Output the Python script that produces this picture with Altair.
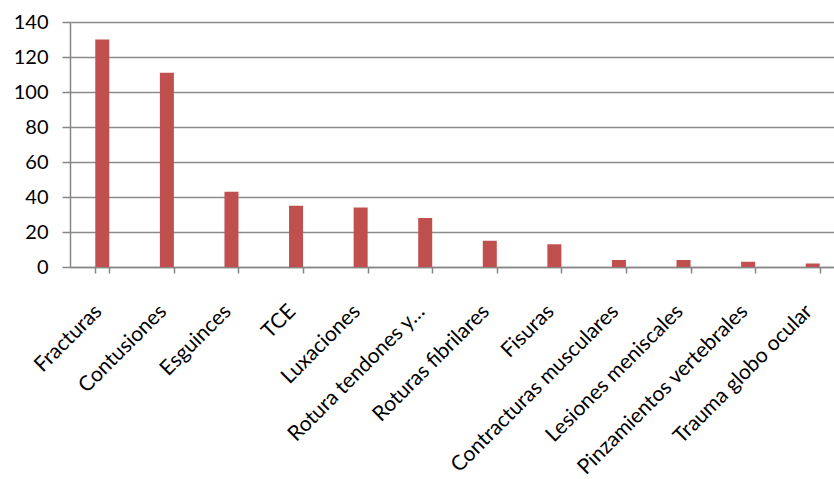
import altair as alt
import pandas as pd

categories = [
    "Fracturas", "Contusiones", "Esguinces", "TCE", "Luxaciones",
    "Rotura tendones y…", "Roturas fibrilares", "Fisuras",
    "Contracturas musculares", "Lesiones meniscales",
    "Pinzamientos vertebrales", "Trauma globo ocular",
]
values = [130, 111, 43, 35, 34, 28, 15, 13, 4, 4, 3, 2]
y_ticks = [0, 20, 40, 60, 80, 100, 120, 140]

df = pd.DataFrame({"cat": categories, "val": values})

FONT = "Lato"

chart = alt.Chart(df).mark_bar(color="#c0504d").encode(
    x=alt.X(
        "cat:N",
        sort=categories,
        title=None,
        scale=alt.Scale(range=[0, 775], paddingInner=0.783, paddingOuter=0.3915),
        axis=alt.Axis(
            labelAngle=-45,
            labelAlign="right",
            labelBaseline="middle",
            labelFont=FONT,
            labelFontSize=21,
            labelColor="#000000",
            labelPadding=35,
            labelOffset=-4,
            labelLimit=400,
            tickBand="extent",
            tickSize=6,
            tickColor="#868686",
            tickWidth=1.5,
            domainColor="#868686",
            domainWidth=1.5,
            grid=False,
        ),
    ),
    y=alt.Y(
        "val:Q",
        title=None,
        scale=alt.Scale(domain=[0, 140], nice=False),
        axis=alt.Axis(
            values=y_ticks,
            labelFont=FONT,
            labelFontSize=20,
            labelColor="#000000",
            labelPadding=14,
            tickSize=8,
            tickColor="#868686",
            tickWidth=1.5,
            domainColor="#868686",
            domainWidth=1.5,
            gridColor="#8c8c8c",
            gridWidth=1.5,
        ),
    ),
).properties(
    width=764,
    height=245,
    autosize=alt.AutoSizeParams(type="none"),
    padding={"left": 70, "top": 22, "right": 0, "bottom": 212},
    background="white",
).configure_view(stroke=None)

chart.save("out.html", embed_options={"renderer": "svg", "actions": False})
